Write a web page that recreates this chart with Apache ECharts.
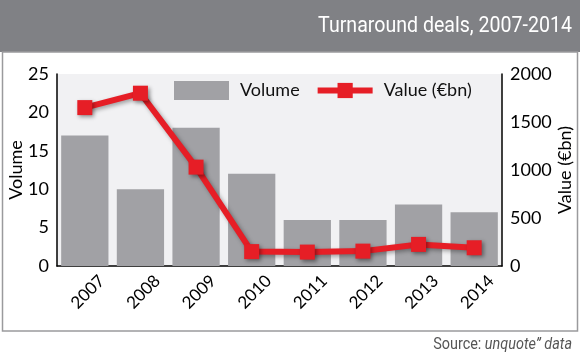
<!DOCTYPE html>
<html><head><meta charset="utf-8">
<script src="https://cdn.jsdelivr.net/npm/echarts@6/dist/echarts.min.js"></script>
<style>html,body{margin:0;padding:0;background:#fff}#c{width:580px;height:358px}</style>
</head><body><div id="c"></div>
<script>
const years = ['2007','2008','2009','2010','2011','2012','2013','2014'];
const volume = [17, 10, 18, 12, 6, 6, 8, 7];
const value = [1650, 1800, 1030, 150, 145, 155, 225, 190];
const leftTicks = {min: 0, max: 25, interval: 5};
const rightTicks = {min: 0, max: 2000, interval: 500};
const titleText = 'Turnaround deals, 2007-2014';

const font = 'Lato, "Open Sans", sans-serif';
const narrow = 'Roboto, sans-serif';
const chart = echarts.init(document.getElementById('c'), null, {renderer: 'canvas'});
chart.setOption({
  animation: false,
  backgroundColor: '#ffffff',
  graphic: [
    {type: 'rect', shape: {x: 0, y: 0, width: 580, height: 52}, style: {fill: '#808185'}, z: -10},
    {type: 'rect', shape: {x: 2.5, y: 52, width: 575, height: 279}, style: {fill: 'none', stroke: '#9a9a9d', lineWidth: 1.5}, z: -10},
    {type: 'text', x: 572, y: 15, scaleX: 0.89, originX: 0, originY: 0,
      style: {text: titleText, fill: '#ffffff', font: '22px ' + narrow, textAlign: 'right', textVerticalAlign: 'top'}},
    {type: 'text', x: 572, y: 337, scaleX: 0.9, originX: 0, originY: 0, style: {
      text: '{a|Source: }{b|unquote” data}', textAlign: 'right', textVerticalAlign: 'top',
      rich: {
        a: {fill: '#555', font: '16px ' + narrow},
        b: {fill: '#555', font: 'italic 16px ' + narrow}
      }
    }}
  ],
  grid: {left: 57, right: 78, top: 74, bottom: 92, show: true, backgroundColor: '#f1f1f3', borderWidth: 0,
    containLabel: false, outerBoundsMode: 'none'},
  legend: {
    top: 81, left: 174, padding: 0, itemGap: 15, itemWidth: 55, itemHeight: 19,
    textStyle: {fontFamily: font, fontSize: 18, color: '#111', padding: [0, 0, 0, 6]},
    data: [
      {name: 'Volume', icon: 'rect'},
      {name: 'Value (€bn)', lineStyle: {width: 6, color: '#e61e26'}, itemStyle: {color: '#e61e26'}}
    ]
  },
  xAxis: {
    type: 'category', data: years, boundaryGap: true,
    axisLine: {lineStyle: {color: '#000', width: 1.5}},
    axisTick: {inside: true, length: 5, lineStyle: {color: '#000', width: 1}},
    axisLabel: {rotate: 45, interval: 0, color: '#000', fontFamily: font, fontSize: 17, margin: 29,
      verticalAlign: 'middle', padding: [0, -24, 0, 0]}
  },
  yAxis: [
    {
      type: 'value', min: leftTicks.min, max: leftTicks.max, interval: leftTicks.interval,
      name: 'Volume', nameLocation: 'middle', nameGap: 32, nameRotate: 90, nameMoveOverlap: false,
      nameTextStyle: {fontFamily: font, fontSize: 18, color: '#000'},
      axisLine: {show: true, lineStyle: {color: '#000', width: 1.5}},
      axisTick: {show: false}, splitLine: {show: false},
      axisLabel: {color: '#000', fontFamily: font, fontSize: 18, margin: 8}
    },
    {
      type: 'value', min: rightTicks.min, max: rightTicks.max, interval: rightTicks.interval,
      name: 'Value (€bn)', nameLocation: 'middle', nameGap: 54, nameRotate: 90, nameMoveOverlap: false,
      nameTextStyle: {fontFamily: font, fontSize: 18, color: '#000'},
      axisLine: {show: true, lineStyle: {color: '#000', width: 1.5}},
      axisTick: {show: false}, splitLine: {show: false},
      axisLabel: {color: '#000', fontFamily: font, fontSize: 18, margin: 8, formatter: v => String(v)}
    }
  ],
  series: [
    {
      name: 'Volume', type: 'bar', data: volume, yAxisIndex: 0,
      barCategoryGap: '15%',
      itemStyle: {color: '#a1a1a5'}
    },
    {
      name: 'Value (€bn)', type: 'line', data: value, yAxisIndex: 1,
      symbol: 'rect', symbolSize: 15,
      lineStyle: {color: '#e61e26', width: 6, shadowColor: 'rgba(0,0,0,0.35)', shadowBlur: 4, shadowOffsetX: 2, shadowOffsetY: 2},
      itemStyle: {color: '#e61e26', shadowColor: 'rgba(0,0,0,0.4)', shadowBlur: 4, shadowOffsetX: 2, shadowOffsetY: 2}
    }
  ]
});
</script></body></html>
